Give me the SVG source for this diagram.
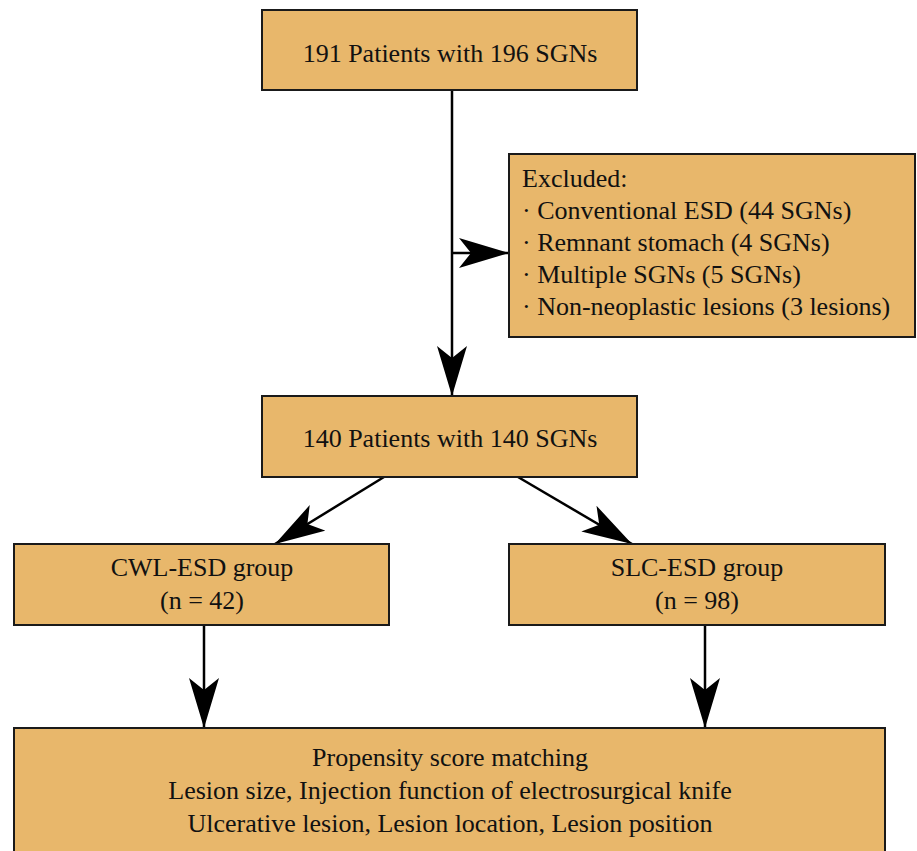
<svg xmlns="http://www.w3.org/2000/svg" width="917" height="851" viewBox="0 0 917 851">
<style>
.box{fill:#E8B76B;stroke:#1a1a1a;stroke-width:2}
.t{font-family:"Liberation Serif","Times New Roman",serif;font-size:26px;fill:#111}
.c{text-anchor:middle}
.ln{stroke:#000;stroke-width:2.5;fill:none}
</style>
<defs>
<marker id="ah" viewBox="0 0 50 30" refX="50" refY="15" markerWidth="50" markerHeight="30" markerUnits="userSpaceOnUse" orient="auto">
<path d="M0,0 L50,15 L0,30 L12,15 Z" fill="#000"/>
</marker>
</defs>
<rect width="917" height="851" fill="#fff"/>
<g id="connectors">
<line class="ln" x1="452" y1="90" x2="452" y2="396" marker-end="url(#ah)"/>
<line class="ln" x1="452" y1="253" x2="509" y2="253" marker-end="url(#ah)"/>
<line class="ln" x1="384" y1="477" x2="275" y2="544" marker-end="url(#ah)"/>
<line class="ln" x1="518" y1="477" x2="632" y2="544" marker-end="url(#ah)"/>
<line class="ln" x1="204" y1="625" x2="204" y2="728" marker-end="url(#ah)"/>
<line class="ln" x1="705" y1="625" x2="705" y2="728" marker-end="url(#ah)"/>
</g>
<g id="n1">
<rect class="box" x="262" y="10" width="375" height="80"/>
<text class="t c" x="450" y="62">191 Patients with 196 SGNs</text>
</g>
<g id="excluded">
<rect class="box" x="509" y="154" width="406" height="183"/>
<text class="t" x="522" y="187">Excluded:</text>
<text class="t" x="522" y="219">· Conventional ESD (44 SGNs)</text>
<text class="t" x="522" y="251">· Remnant stomach (4 SGNs)</text>
<text class="t" x="522" y="283">· Multiple SGNs (5 SGNs)</text>
<text class="t" x="522" y="315">· Non-neoplastic lesions (3 lesions)</text>
</g>
<g id="n2">
<rect class="box" x="262" y="396" width="375" height="81"/>
<text class="t c" x="450" y="447">140 Patients with 140 SGNs</text>
</g>
<g id="cwl">
<rect class="box" x="14" y="544" width="375" height="81"/>
<text class="t c" x="202" y="576">CWL-ESD group</text>
<text class="t c" x="202" y="609">(n = 42)</text>
</g>
<g id="slc">
<rect class="box" x="509" y="544" width="376" height="81"/>
<text class="t c" x="697" y="576">SLC-ESD group</text>
<text class="t c" x="697" y="609">(n = 98)</text>
</g>
<g id="psm">
<rect class="box" x="14" y="728" width="871" height="140"/>
<text class="t c" x="450" y="766">Propensity score matching</text>
<text class="t c" x="450" y="799">Lesion size, Injection function of electrosurgical knife</text>
<text class="t c" x="450" y="832">Ulcerative lesion, Lesion location, Lesion position</text>
</g>
</svg>
